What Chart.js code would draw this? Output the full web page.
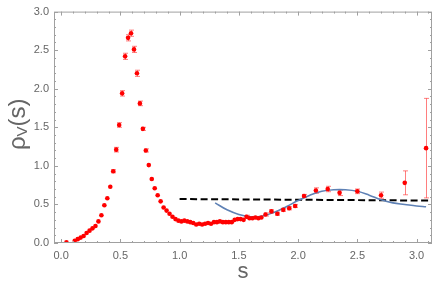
<!DOCTYPE html>
<html>
<head>
<meta charset="utf-8">
<script src="https://cdn.jsdelivr.net/npm/chart.js@4/dist/chart.umd.min.js"></script>
<style>
  html, body { margin: 0; padding: 0; background: #fff; }
  #wrap { width: 436px; height: 298px; }
</style>
</head>
<body>
<div id="wrap"><canvas id="c" width="436" height="298"></canvas></div>
<script>
// lattice points: s, rho_V(s), error
const sPts = [
  0.045, 0.115, 0.14, 0.165, 0.19, 0.215, 0.24, 0.265, 0.29, 0.315,
  0.34, 0.365, 0.39, 0.415, 0.44, 0.465, 0.49, 0.515, 0.54, 0.565,
  0.59, 0.615, 0.64, 0.665, 0.69, 0.715, 0.74, 0.765, 0.79, 0.815,
  0.84, 0.865, 0.89, 0.915, 0.94, 0.965, 0.99, 1.015, 1.04, 1.065,
  1.09, 1.115, 1.14, 1.165, 1.19, 1.215, 1.24, 1.265, 1.29, 1.315,
  1.34, 1.365, 1.39, 1.415, 1.44, 1.465, 1.49, 1.515, 1.54, 1.565,
  1.59, 1.615, 1.64, 1.665, 1.69, 1.725, 1.775, 1.825, 1.875, 1.925,
  1.975, 2.05, 2.15, 2.25, 2.35, 2.5, 2.7, 2.9, 3.08
];
const rhoPts = [
  0.01, 0.03, 0.05, 0.07, 0.09, 0.13, 0.16, 0.19, 0.22, 0.28,
  0.36, 0.49, 0.58, 0.73, 0.93, 1.21, 1.53, 1.94, 2.42, 2.66,
  2.72, 2.51, 2.20, 1.81, 1.48, 1.20, 1.01, 0.83, 0.71, 0.62,
  0.54, 0.46, 0.42, 0.38, 0.34, 0.31, 0.29, 0.28, 0.29, 0.28,
  0.27, 0.26, 0.24, 0.25, 0.24, 0.25, 0.26, 0.25, 0.27, 0.27,
  0.28, 0.27, 0.27, 0.27, 0.27, 0.30, 0.31, 0.31, 0.30, 0.34,
  0.32, 0.32, 0.33, 0.32, 0.33, 0.37, 0.41, 0.38, 0.43, 0.45,
  0.48, 0.61, 0.68, 0.70, 0.65, 0.67, 0.62, 0.78, 1.23
];
const rhoErr = [
  0.005, 0.005, 0.005, 0.005, 0.005, 0.005, 0.006, 0.006, 0.007, 0.008,
  0.01, 0.012, 0.014, 0.016, 0.02, 0.03, 0.03, 0.035, 0.04, 0.04,
  0.04, 0.04, 0.04, 0.03, 0.02, 0.02, 0.015, 0.012, 0.01, 0.01,
  0.01, 0.01, 0.01, 0.01, 0.01, 0.01, 0.01, 0.01, 0.01, 0.01,
  0.01, 0.01, 0.01, 0.01, 0.01, 0.01, 0.01, 0.01, 0.01, 0.01,
  0.01, 0.01, 0.01, 0.01, 0.01, 0.015, 0.015, 0.015, 0.015, 0.02,
  0.015, 0.015, 0.015, 0.015, 0.015, 0.02, 0.02, 0.02, 0.02, 0.02,
  0.02, 0.02, 0.035, 0.035, 0.035, 0.03, 0.04, 0.155, 0.645
];

// fitted curve (blue)
const fitS   = [1.3, 1.4, 1.5, 1.6, 1.7, 1.8, 1.9, 2.0, 2.1, 2.2, 2.3, 2.4, 2.5, 2.6, 2.7, 2.8, 2.9, 3.0, 3.08];
const fitRho = [0.52, 0.43, 0.37, 0.34, 0.35, 0.40, 0.47, 0.55, 0.62, 0.67, 0.69, 0.69, 0.67, 0.62, 0.56, 0.52, 0.50, 0.48, 0.47];

// perturbative line (dashed)
const pqcdS   = [1.0, 3.13];
const pqcdRho = [0.57, 0.55];

const xTicks = [0, 0.5, 1, 1.5, 2, 2.5, 3];
const yTicks = [0, 0.5, 1, 1.5, 2, 2.5, 3];

const RED = '#ff0000';
const GREY = '#666666';
const FONT = '"Liberation Sans", Arial, sans-serif';

const toXY = (xs, ys) => xs.map((v, i) => ({ x: v, y: ys[i] }));

// light error bars under the points
const errorBars = {
  id: 'errorBars',
  beforeDatasetsDraw(chart) {
    const { ctx, scales: { x, y } } = chart;
    ctx.save();
    ctx.strokeStyle = 'rgba(255,40,40,0.6)';
    ctx.lineWidth = 1;
    sPts.forEach((s, i) => {
      const px = Math.round(x.getPixelForValue(s)) + 0.5;
      const top = y.getPixelForValue(rhoPts[i] + rhoErr[i]);
      const bot = y.getPixelForValue(rhoPts[i] - rhoErr[i]);
      if (bot - top < 3) return;
      ctx.beginPath();
      ctx.moveTo(px, top); ctx.lineTo(px, bot);
      ctx.moveTo(px - 2.5, top); ctx.lineTo(px + 2.5, top);
      ctx.moveTo(px - 2.5, bot); ctx.lineTo(px + 2.5, bot);
      ctx.stroke();
    });
    ctx.restore();
  }
};

// Mathematica-like frame with inward ticks on all sides + axis titles
const frame = {
  id: 'frame',
  afterDraw(chart) {
    const { ctx, chartArea: a, scales: { x, y } } = chart;
    ctx.save();
    ctx.strokeStyle = '#a0a0a0';
    ctx.lineWidth = 1;
    ctx.strokeRect(a.left + 0.5, a.top + 0.5, a.right - a.left - 1, a.bottom - a.top - 1);
    ctx.beginPath();
    for (let k = 0; k <= 31; k++) {
      const px = Math.round(x.getPixelForValue(k / 10)) + 0.5;
      if (px < a.left || px > a.right) continue;
      const len = k % 5 === 0 ? 4 : 2;
      ctx.moveTo(px, a.bottom); ctx.lineTo(px, a.bottom - len);
      ctx.moveTo(px, a.top); ctx.lineTo(px, a.top + len);
    }
    for (let k = 0; k <= 30; k++) {
      const py = Math.round(y.getPixelForValue(k / 10)) + 0.5;
      const len = k % 5 === 0 ? 4 : 2;
      ctx.moveTo(a.left, py); ctx.lineTo(a.left + len, py);
      ctx.moveTo(a.right, py); ctx.lineTo(a.right - len, py);
    }
    ctx.stroke();

    // x title
    ctx.fillStyle = GREY;
    ctx.textAlign = 'center';
    ctx.textBaseline = 'middle';
    ctx.font = '22px ' + FONT;
    ctx.fillText('s', (a.left + a.right) / 2, 272);

    // y title rho_V(s)
    ctx.translate(18, (a.top + a.bottom) / 2 - 3);
    ctx.rotate(-Math.PI / 2);
    ctx.textAlign = 'left';
    ctx.textBaseline = 'middle';
    const big = '24px ' + FONT, small = '15px ' + FONT;
    ctx.font = big; const w1 = ctx.measureText('\u03c1').width;
    ctx.font = small; const w2 = ctx.measureText('V').width;
    ctx.font = big; const w3 = ctx.measureText('(s)').width;
    let cx = -(w1 + w2 + w3) / 2;
    ctx.font = big; ctx.fillText('\u03c1', cx, 0); cx += w1;
    ctx.font = small; ctx.fillText('V', cx, 5); cx += w2;
    ctx.font = big; ctx.fillText('(s)', cx, 0);
    ctx.restore();
  }
};

new Chart(document.getElementById('c'), {
  type: 'scatter',
  data: {
    datasets: [
      {
        label: 'lattice',
        data: toXY(sPts, rhoPts),
        backgroundColor: RED,
        borderWidth: 0,
        pointRadius: 2.3,
        order: 0
      },
      {
        label: 'fit',
        data: toXY(fitS, fitRho),
        showLine: true,
        borderColor: '#5e81b5',
        borderWidth: 1.6,
        pointRadius: 0,
        tension: 0.4,
        order: 1
      },
      {
        label: 'pQCD',
        data: toXY(pqcdS, pqcdRho),
        showLine: true,
        borderColor: '#000',
        borderWidth: 2,
        borderDash: [7, 3.5],
        pointRadius: 0,
        order: 2
      }
    ]
  },
  options: {
    responsive: false,
    animation: false,
    events: [],
    layout: { padding: { left: 0, right: 3, top: 6, bottom: 0 } },
    plugins: { legend: { display: false }, tooltip: { enabled: false } },
    scales: {
      x: {
        type: 'linear', min: -0.06, max: 3.13,
        afterBuildTicks: (s) => { s.ticks = xTicks.map((v) => ({ value: v })); },
        afterFit: (s) => { s.height = 55; },
        grid: { display: false, drawTicks: false, tickLength: 0 }, border: { display: false },
        ticks: { color: GREY, padding: 6, font: { family: FONT, size: 11 }, callback: (v) => v.toFixed(1), maxRotation: 0 }
      },
      y: {
        type: 'linear', min: 0, max: 3,
        afterBuildTicks: (s) => { s.ticks = yTicks.map((v) => ({ value: v })); },
        afterFit: (s) => { s.width = 54; },
        grid: { display: false, drawTicks: false, tickLength: 0 }, border: { display: false },
        ticks: { color: GREY, padding: 5, font: { family: FONT, size: 11 }, callback: (v) => v.toFixed(1) }
      }
    }
  },
  plugins: [errorBars, frame]
});
</script>
</body>
</html>
